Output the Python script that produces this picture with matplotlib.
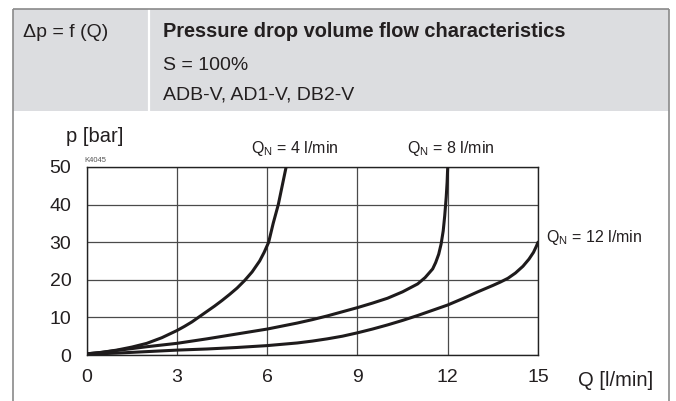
import matplotlib
matplotlib.use('Agg')
import matplotlib.pyplot as plt
from matplotlib import font_manager
from matplotlib.patches import Rectangle
from matplotlib.lines import Line2D

# flow Q [l/min] vs pressure drop p [bar], read from the sheet
q_n4 = [0, 0.5, 1, 1.5, 2, 2.5, 3, 3.25, 3.5, 3.75, 4, 4.25, 4.5, 4.75, 5, 5.25, 5.5, 5.75, 5.9, 6.05,
        6.2, 6.37, 6.5, 6.63]
p_n4 = [0.3, 0.7, 1.3, 2.1, 3.1, 4.6, 6.5, 7.6, 8.8, 10.2, 11.6, 13.0, 14.5, 16.1, 17.8, 19.8, 22.1, 25.0, 27.3, 30.0,
        35.0, 40.0, 45.0, 50.0]

q_n8 = [0, 0.5, 1, 2, 3, 4, 5, 6, 7, 7.5, 8, 8.5, 9, 9.5, 10, 10.5, 11, 11.25, 11.5, 11.6, 11.7, 11.78,
        11.85, 11.9, 11.95, 11.98, 12.0]
p_n8 = [0.3, 0.7, 1.2, 2.2, 3.1, 4.3, 5.6, 6.9, 8.5, 9.4, 10.4, 11.5, 12.6, 13.8, 15.1, 16.8, 18.9, 20.6, 22.9, 24.6, 26.8, 29.5,
        33.0, 37.0, 42.0, 46.0, 50.0]

q_n12 = [0, 1, 2, 3, 4, 5, 6, 7, 7.5, 8, 8.5, 9, 9.5, 10, 10.5, 11, 11.5, 12, 12.5, 13, 13.5, 13.75, 14,
         14.25, 14.5, 14.7, 14.85, 14.95, 15.0]
p_n12 = [0.2, 0.5, 0.9, 1.3, 1.6, 2.0, 2.5, 3.2, 3.7, 4.3, 5.0, 5.9, 6.9, 8.0, 9.2, 10.5, 11.9, 13.3, 15.0, 16.8, 18.5, 19.4, 20.4,
         21.8, 23.6, 25.5, 27.3, 29.0, 30.0]

x_ticks = [0, 3, 6, 9, 12, 15]
y_ticks = [0, 10, 20, 30, 40, 50]

names = {f.name for f in font_manager.fontManager.ttflist}
narrow = 'Liberation Sans Narrow' if 'Liberation Sans Narrow' in names else 'Liberation Sans'

plt.rcParams['font.family'] = ['Liberation Sans', 'DejaVu Sans']
plt.rcParams['mathtext.fontset'] = 'custom'
plt.rcParams['mathtext.rm'] = 'Liberation Sans'

W, H = 676, 401
fig = plt.figure(figsize=(W / 100, H / 100), dpi=100)


def fx(x):
    return x / W


def fy(y):
    return 1 - y / H


# header box
fig.patches.append(Rectangle((fx(12.7), fy(111)), fx(669.3) - fx(12.7), fy(9) - fy(111),
                             transform=fig.transFigure, facecolor='#dcdde0', edgecolor='none', zorder=0))
fig.add_artist(Line2D([fx(148.6), fx(148.6)], [fy(9), fy(111)], color='white', lw=1.6))
border = dict(color='#8a8a8a', lw=1.2, solid_capstyle='butt')
fig.add_artist(Line2D([fx(12.7), fx(669.3)], [fy(9), fy(9)], **border))
fig.add_artist(Line2D([fx(12.7), fx(12.7)], [fy(9), fy(401)], **border))
fig.add_artist(Line2D([fx(669.3), fx(669.3)], [fy(9), fy(401)], **border))

hdr = dict(family=[narrow, 'DejaVu Sans'], fontsize=14, color='#231f20', va='baseline')
fig.text(fx(23), fy(37), 'Δp = f (Q)', **hdr)
fig.text(fx(163), fy(37), 'Pressure drop volume flow characteristics', fontweight='bold',
         **{**hdr, 'fontsize': 14.4})
fig.text(fx(163), fy(70), 'S = 100%', **hdr)
fig.text(fx(163), fy(100), 'ADB-V, AD1-V, DB2-V', **hdr)

# chart
ax = fig.add_axes([fx(86.6), fy(355), fx(538) - fx(86.6), fy(167) - fy(355)])
for q, p in [(q_n4, p_n4), (q_n8, p_n8), (q_n12, p_n12)]:
    ax.plot(q, p, color='#1e1b1c', lw=2.2, solid_joinstyle='round', solid_capstyle='round', zorder=3)

ax.set_xlim(0, 15)
ax.set_ylim(0, 50)
ax.set_xticks(x_ticks)
ax.set_yticks(y_ticks)
ax.grid(True, color='#4a4a4a', lw=0.9)
ax.set_axisbelow(True)
for s in ax.spines.values():
    s.set_color('#222222')
    s.set_linewidth(1.0)
ax.tick_params(length=0, labelsize=14, colors='#231f20')
ax.tick_params(axis='x', pad=10)
ax.tick_params(axis='y', pad=11)

ax.text(0.26, 56.7, 'p [bar]', fontsize=14.5, ha='center', va='baseline', color='#231f20', clip_on=False)
ax.text(16.34, -8.2, 'Q [l/min]', fontsize=14.5, ha='left', va='baseline', color='#231f20', clip_on=False)
ax.text(-0.08, 51.7, 'K4045', fontsize=5.5, ha='left', va='center', color='#555555', clip_on=False)

lbl = dict(fontsize=11.5, va='baseline', color='#231f20', clip_on=False)
ax.text(6.9, 53.8, r'$\mathregular{Q_N}$ = 4 l/min', ha='center', **lbl)
ax.text(12.1, 53.8, r'$\mathregular{Q_N}$ = 8 l/min', ha='center', **lbl)
ax.text(15.25, 30.0, r'$\mathregular{Q_N}$ = 12 l/min', ha='left', **lbl)

fig.savefig('out.png', dpi=100)
